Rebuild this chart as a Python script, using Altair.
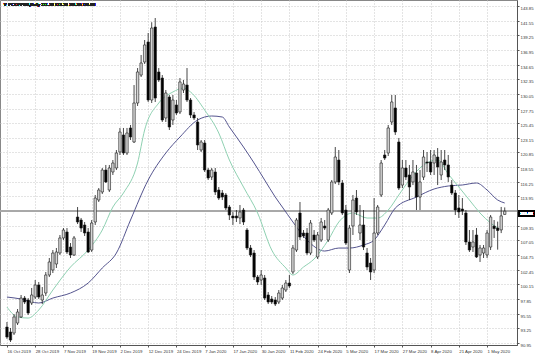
import json
import altair as alt
import pandas as pd

# ---------------- data ----------------
x_labels = ["16 Oct 2019", "28 Oct 2019", "7 Nov 2019", "19 Nov 2019", "2 Dec 2019",
            "12 Dec 2019", "24 Dec 2019", "7 Jan 2020", "17 Jan 2020", "30 Jan 2020",
            "11 Feb 2020", "24 Feb 2020", "5 Mar 2020", "17 Mar 2020", "27 Mar 2020",
            "8 Apr 2020", "21 Apr 2020", "1 May 2020"]
label_step = 8

y_ticks = [143.85, 141.55, 139.25, 136.95, 134.65, 132.35, 130.05, 127.75, 125.45,
           123.15, 120.85, 118.55, 116.25, 113.95, 111.65, 109.35, 107.05, 104.75,
           102.45, 100.15, 97.85, 95.55, 93.25, 90.95]

opens = [93.45, 92.67, 92.51, 94.08, 95.03, 98.00, 97.69, 97.22, 98.16, 100.05,
         97.69, 98.79, 101.62, 102.40, 103.35, 105.07, 107.43, 108.37, 106.01, 104.76,
         110.72, 110.25, 109.47, 108.37, 105.54, 109.94, 113.39, 114.65, 118.10, 114.96,
         117.79, 118.42, 120.93, 123.60, 120.77, 124.70, 122.50, 128.62, 133.01, 135.06,
         138.20, 129.09, 140.55, 133.49, 132.54, 126.27, 129.56, 125.95, 128.31, 127.21,
         130.66, 131.44, 129.09, 126.74, 125.64, 121.24, 122.34, 118.10, 117.00, 117.79,
         114.96, 114.49, 114.18, 112.29, 110.88, 110.88, 110.57, 111.82, 108.68, 105.86,
         105.07, 101.30, 100.83, 101.15, 98.48, 97.85, 97.69, 97.38, 98.00, 99.26,
         100.36, 102.09, 105.54, 111.35, 108.21, 108.21, 105.07, 107.90, 104.44, 107.11,
         109.31, 107.11, 111.35, 116.22, 119.67, 116.06, 111.82, 102.40, 109.31, 113.70,
         108.21, 109.47, 105.07, 103.50, 102.40, 108.21, 114.18, 120.46, 120.77, 125.64,
         127.84, 122.50, 115.74, 118.42, 117.32, 116.22, 117.63, 113.86, 116.99, 119.36,
         119.36, 119.20, 120.14, 117.32, 119.67, 118.89, 115.74, 114.49, 112.14, 111.98,
         111.35, 106.80, 106.01, 107.90, 104.76, 105.07, 104.76, 106.01, 109.30, 109.00,
         108.70, 111.13]
highs = [94.24, 93.30, 95.50, 96.28, 98.48, 98.32, 98.00, 99.58, 100.83, 100.52,
         99.73, 102.09, 104.29, 105.54, 105.86, 107.90, 108.99, 108.99, 106.64, 107.74,
         112.29, 110.57, 109.94, 108.99, 110.25, 114.18, 115.27, 118.42, 118.89, 118.89,
         119.67, 121.24, 124.70, 124.70, 124.70, 125.17, 131.44, 134.11, 136.16, 138.51,
         139.61, 141.30, 141.96, 134.11, 133.01, 130.66, 129.88, 129.88, 129.09, 132.54,
         132.23, 134.11, 129.40, 127.21, 126.27, 122.81, 122.81, 118.42, 118.42, 118.42,
         115.43, 114.96, 114.49, 112.61, 111.51, 111.82, 112.61, 112.14, 108.99, 106.33,
         105.54, 101.62, 102.40, 101.62, 98.95, 98.32, 98.16, 99.26, 100.05, 100.83,
         101.62, 106.33, 110.57, 113.08, 108.68, 108.99, 110.25, 108.68, 108.37, 110.57,
         110.25, 112.14, 116.53, 121.71, 121.24, 116.53, 112.61, 109.47, 114.18, 114.96,
         112.61, 111.82, 105.86, 104.29, 113.70, 112.61, 119.67, 121.24, 125.17, 129.88,
         129.88, 123.13, 119.67, 119.67, 118.89, 119.67, 118.89, 118.10, 121.24, 120.93,
         121.24, 121.24, 121.55, 121.24, 121.24, 120.46, 116.53, 114.96, 114.18, 113.70,
         111.82, 108.68, 108.68, 108.99, 106.33, 106.33, 108.68, 111.04, 110.25, 110.00,
         112.30, 112.23]
lows = [91.58, 91.10, 92.20, 93.77, 94.87, 97.06, 95.34, 96.91, 97.85, 97.85,
        97.06, 98.32, 101.30, 101.93, 102.72, 104.76, 107.11, 104.92, 104.29, 104.60,
        109.62, 108.37, 107.74, 105.07, 105.23, 109.47, 113.08, 114.33, 116.06, 114.65,
        117.32, 118.10, 120.46, 120.46, 120.46, 122.81, 122.34, 128.15, 132.70, 134.74,
        128.78, 128.62, 128.78, 131.92, 125.64, 125.64, 124.38, 125.17, 126.74, 126.89,
        130.19, 128.78, 126.27, 125.95, 121.24, 120.93, 117.79, 116.53, 116.53, 114.18,
        113.39, 113.39, 111.82, 110.25, 109.47, 109.94, 109.62, 109.47, 105.54, 104.44,
        100.83, 100.05, 100.05, 97.69, 97.06, 97.06, 96.75, 97.06, 97.69, 98.95,
        99.58, 101.77, 105.23, 107.11, 107.43, 104.76, 104.76, 106.80, 104.13, 106.80,
        108.68, 106.80, 111.04, 115.90, 115.74, 111.04, 106.33, 101.93, 107.90, 111.04,
        107.11, 105.54, 102.40, 100.83, 101.93, 107.90, 113.86, 119.67, 120.30, 125.17,
        123.60, 114.96, 115.27, 116.53, 113.39, 115.74, 111.82, 111.82, 116.53, 117.79,
        117.32, 117.32, 115.74, 116.53, 118.10, 116.22, 114.18, 111.04, 110.57, 111.04,
        106.33, 105.23, 105.23, 104.29, 103.66, 104.29, 104.29, 105.54, 107.43, 105.60,
        108.20, 111.10]
closes = [91.88, 91.41, 95.03, 95.81, 98.00, 97.38, 95.65, 98.48, 100.05, 98.16,
          98.48, 101.62, 103.66, 105.07, 105.23, 107.43, 108.68, 105.23, 104.76, 107.43,
          109.94, 108.99, 108.21, 105.23, 109.78, 113.70, 114.96, 118.10, 116.22, 118.42,
          119.20, 120.77, 124.07, 120.77, 123.91, 123.28, 128.62, 133.49, 134.90, 137.73,
          129.09, 140.39, 129.40, 132.23, 125.95, 130.19, 124.85, 129.09, 127.05, 131.92,
          131.60, 129.09, 126.74, 126.27, 122.03, 122.50, 118.10, 116.85, 118.10, 114.65,
          113.70, 113.86, 112.14, 111.04, 110.57, 110.57, 111.51, 109.94, 105.86, 104.76,
          101.30, 100.52, 101.62, 98.00, 97.38, 97.38, 97.06, 98.79, 99.58, 100.36,
          99.89, 105.86, 110.25, 107.58, 107.74, 105.07, 109.78, 107.11, 107.90, 109.94,
          108.99, 111.82, 116.22, 120.14, 116.22, 111.35, 106.64, 108.99, 113.39, 111.51,
          109.47, 106.01, 102.87, 102.09, 108.21, 112.29, 119.20, 119.98, 124.70, 128.78,
          124.07, 115.27, 118.42, 117.00, 115.43, 117.79, 113.86, 116.22, 120.14, 119.20,
          117.79, 120.46, 118.57, 119.36, 118.89, 117.00, 114.49, 111.82, 111.51, 111.67,
          106.80, 105.54, 106.80, 104.44, 105.86, 105.86, 108.21, 110.72, 108.90, 108.60,
          110.90, 111.63]

fast_bars = [0, 3, 6, 9, 13, 18, 23, 27, 30, 33, 37, 39, 43, 47, 50, 52, 56, 60, 63, 67,
             71, 75, 79, 81, 84, 87, 91, 94, 98, 102, 105, 108, 111, 114, 118, 122, 125,
             128, 131, 134, 137, 139]
fast_vals = [96.59, 95.02, 94.86, 96.12, 99.26, 102.87, 105.54, 108.68, 112.29, 114.49,
             119.20, 124.38, 128.62, 130.35, 130.97, 130.35, 127.52, 123.91, 119.67, 115.43,
             111.35, 105.54, 102.72, 101.62, 102.87, 104.13, 107.11, 109.94, 111.35, 110.56,
             110.56, 111.82, 114.18, 116.53, 118.89, 119.67, 117.47, 115.43, 113.39, 111.35,
             109.78, 108.99]

slow_bars = [0, 4, 9, 13, 18, 23, 27, 31, 35, 40, 45, 49, 54, 58, 61, 63, 67, 70, 73, 76,
             78, 81, 85, 90, 94, 97, 101, 104, 107, 110, 116, 121, 125, 129, 133, 136, 139, 141]
slow_vals = [98.16, 97.85, 97.22, 98.00, 98.79, 100.36, 102.72, 105.07, 110.25, 116.53,
             120.77, 123.28, 125.95, 126.58, 126.42, 124.85, 121.71, 119.20, 116.53, 113.86,
             112.29, 109.94, 107.11, 105.38, 105.85, 105.85, 106.33, 107.11, 109.47, 112.13,
             113.86, 115.12, 115.59, 115.75, 116.06, 114.96, 113.39, 112.92]

symbol = "PCOPPBE,Daily"
last_price = closes[-1]

# ---------------- tables ----------------
df = pd.DataFrame({"i": list(range(len(opens))), "open": opens, "high": highs,
                   "low": lows, "close": closes})
fast_df = pd.DataFrame({"i": fast_bars, "v": fast_vals})
slow_df = pd.DataFrame({"i": slow_bars, "v": slow_vals})

W, H = 517, 345
xs = alt.Scale(domain=[-0.556, 143.06], nice=False, zero=False)
ys = alt.Scale(domain=[90.63, 144.79], nice=False, zero=False)

font = "Liberation Sans"
fs = 4.3
label_arr = json.dumps(x_labels)

x_axis = alt.Axis(values=[k * label_step for k in range(len(x_labels))], tickCount=200,
                  labelExpr=f"{label_arr}[round(datum.value/{label_step})]",
                  labelAlign="left", labelBaseline="top", labelPadding=2, labelOffset=0,
                  labelFont=font, labelFontSize=fs, labelColor="#333",
                  tickSize=2, tickColor="#555", domainColor="#555",
                  grid=True, gridColor="#c8c8c8", gridDash=[1, 2], gridWidth=1,
                  labelOverlap=False, labelFlush=False, title=None)
y_axis = alt.Axis(orient="right", values=y_ticks, tickCount=200,
                  labelExpr="abs(datum.value-111.65)<0.01 ? '' : format(datum.value, '.2f')",
                  labelFont=font, labelFontSize=fs, labelColor="#333", labelPadding=1,
                  labelOffset=2.5, labelBaseline="middle",
                  tickSize=2, tickColor="#555", domainColor="#555",
                  grid=True, gridColor="#c8c8c8", gridDash=[1, 2], gridWidth=1,
                  labelOverlap=False, labelFlush=False, title=None)

X = alt.X("i:Q", scale=xs, axis=x_axis)

wicks = alt.Chart(df).mark_rule(color="#1a1a1a", strokeWidth=0.8).encode(
    x=X, y=alt.Y("low:Q", scale=ys, axis=y_axis), y2="high:Q")

bodies = alt.Chart(df).mark_bar(size=2.4, stroke="#1a1a1a", strokeWidth=0.6).encode(
    x=X, y=alt.Y("open:Q", scale=ys, axis=y_axis), y2="close:Q",
    fill=alt.condition("datum.close >= datum.open", alt.value("#d6d6d6"), alt.value("#000000")))

fast_line = alt.Chart(fast_df).mark_line(color="#8fd1b2", strokeWidth=1, interpolate="monotone").encode(
    x=X, y=alt.Y("v:Q", scale=ys, axis=y_axis))
slow_line = alt.Chart(slow_df).mark_line(color="#55558f", strokeWidth=1, interpolate="monotone").encode(
    x=X, y=alt.Y("v:Q", scale=ys, axis=y_axis))

bid_line = alt.Chart(df).mark_rule(color="#a8a8a8", strokeWidth=1).encode(
    y=alt.datum(last_price, scale=ys, axis=y_axis))

price_box = alt.Chart(df).mark_rect(color="#000000").encode(
    x=alt.value(518), x2=alt.value(535),
    y=alt.datum(last_price + 0.05, scale=ys, axis=y_axis), y2=alt.datum(last_price - 0.85))
price_txt = alt.Chart(df).mark_text(color="#ffffff", font=font, fontSize=fs, align="center",
                                    baseline="middle", dy=2.5).encode(
    x=alt.value(526.5), y=alt.datum(last_price, scale=ys, axis=y_axis),
    text=alt.value(f"{last_price:.2f}"))

header = alt.Chart(df).mark_text(color="#222222", font=font, fontSize=fs, align="left",
                                 baseline="middle").encode(
    x=alt.value(3), y=alt.value(5),
    text=alt.value(f"\u25bc {symbol}  {opens[-1]:.2f} {highs[-1]:.2f} {lows[-1]:.2f} {closes[-1]:.2f}"))

chart = alt.layer(bid_line, slow_line, fast_line, wicks, bodies, price_box, price_txt, header).properties(
    width=W, height=H, autosize=alt.AutoSizeParams(type="none"),
    padding={"left": 0, "top": 0, "right": 19, "bottom": 12},
    background="#ffffff"
).configure_view(stroke="#888888", strokeWidth=1)

chart.save("out.html", embed_options={"renderer": "svg", "actions": False})
